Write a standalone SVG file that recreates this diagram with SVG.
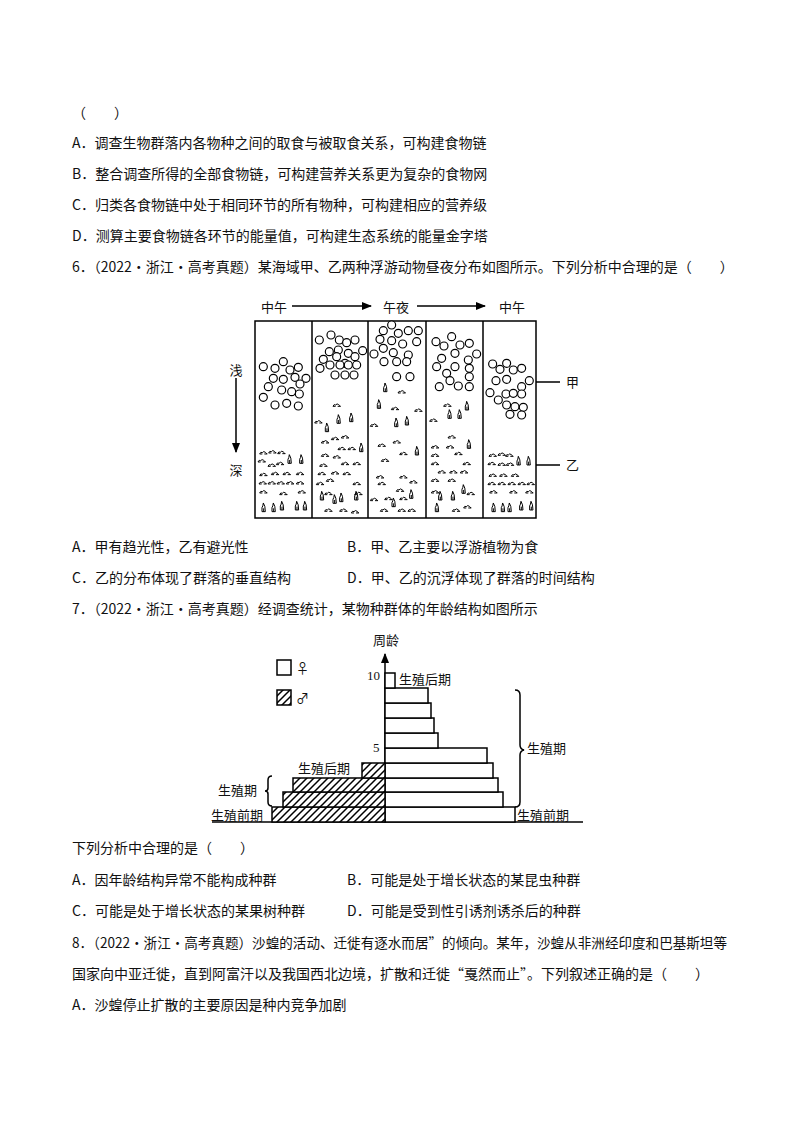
<svg xmlns="http://www.w3.org/2000/svg" xmlns:xlink="http://www.w3.org/1999/xlink" width="794" height="1123" viewBox="0 0 794 1123">
<style>
text{font-family:"Noto Sans CJK SC","Liberation Serif",serif;font-size:14px;fill:#111}
.s{font-size:13px}
.ln{stroke:#000;stroke-width:1.5;fill:none}
.c{fill:#fff;stroke:#000;stroke-width:3.5}
.cr{fill:none;stroke:#000;stroke-width:3;stroke-linejoin:round}
.bar{fill:#fff;stroke:#000;stroke-width:1.5}
.hb{fill:url(#hatch);stroke:#000;stroke-width:1.5}
</style>
<defs>
<marker id="ar" viewBox="0 0 10 10" refX="9" refY="5" markerWidth="7" markerHeight="7" orient="auto"><path d="M0 1L10 5L0 9z" fill="#000"/></marker>
<pattern id="hatch" patternUnits="userSpaceOnUse" width="7" height="7"><rect width="7" height="7" fill="#fff"/><path d="M-1 8L8 -1M-1 1L1 -1M6 8L8 6" stroke="#000" stroke-width="1.5"/></pattern>
<path id="f" d="M-11 2q3-8 8-4q4-6 9-1q3 2 5 5M-11 2h8M3 2h9"/>
<path id="p" d="M-6 0v-12q3-4 4-14q6 8 6 26zM-1 0v-10"/>
</defs>
<rect width="794" height="1123" fill="#fff"/>
<g id="text">
<text x="72" y="118">（　　）</text>
<text x="72" y="148">A．调查生物群落内各物种之间的取食与被取食关系，可构建食物链</text>
<text x="72" y="179">B．整合调查所得的全部食物链，可构建营养关系更为复杂的食物网</text>
<text x="72" y="210">C．归类各食物链中处于相同环节的所有物种，可构建相应的营养级</text>
<text x="72" y="241">D．测算主要食物链各环节的能量值，可构建生态系统的能量金字塔</text>
<text x="72" y="272">6．（2022·浙江·高考真题）某海域甲、乙两种浮游动物昼夜分布如图所示。下列分析中合理的是（　　）</text>
<text x="72" y="552">A．甲有趋光性，乙有避光性</text>
<text x="347" y="552">B．甲、乙主要以浮游植物为食</text>
<text x="72" y="583">C．乙的分布体现了群落的垂直结构</text>
<text x="347" y="583">D．甲、乙的沉浮体现了群落的时间结构</text>
<text x="72" y="614">7．（2022·浙江·高考真题）经调查统计，某物种群体的年龄结构如图所示</text>
<text x="72" y="853">下列分析中合理的是（　　）</text>
<text x="72" y="885">A．因年龄结构异常不能构成种群</text>
<text x="347" y="885">B．可能是处于增长状态的某昆虫种群</text>
<text x="72" y="916">C．可能是处于增长状态的某果树种群</text>
<text x="347" y="916">D．可能是受到性引诱剂诱杀后的种群</text>
<text x="72" y="948" textLength="655" lengthAdjust="spacingAndGlyphs">8．（2022·浙江·高考真题）沙蝗的活动、迁徙有逐水而居”的倾向。某年，沙蝗从非洲经印度和巴基斯坦等</text>
<text x="72" y="979">国家向中亚迁徙，直到阿富汗以及我国西北边境，扩散和迁徙“戛然而止”。下列叙述正确的是（　　）</text>
<text x="72" y="1010">A．沙蝗停止扩散的主要原因是种内竞争加剧</text>
</g>
<g id="fig6">
<rect x="255" y="321" width="281" height="197" fill="#fff" stroke="#000" stroke-width="1.5"/>
<path class="ln" d="M312 321V518M368 321V518M426 321V518M483 321V518"/>
<text class="s" x="274" y="312" text-anchor="middle">中午</text>
<text class="s" x="396" y="312" text-anchor="middle">午夜</text>
<text class="s" x="512" y="312" text-anchor="middle">中午</text>
<text class="s" x="236" y="375" text-anchor="middle">浅</text>
<text class="s" x="236" y="475" text-anchor="middle">深</text>
<text class="s" x="566" y="387">甲</text>
<text class="s" x="566" y="470">乙</text>
<g transform="translate(220 290) scale(0.3333)">
<g class="c">
<circle cx="130" cy="230" r="12"/><circle cx="165" cy="235" r="12"/><circle cx="190" cy="215" r="12"/><circle cx="210" cy="240" r="12"/><circle cx="235" cy="232" r="12"/><circle cx="258" cy="265" r="12"/><circle cx="160" cy="265" r="12"/><circle cx="190" cy="268" r="12"/><circle cx="225" cy="262" r="12"/><circle cx="145" cy="290" r="12"/><circle cx="185" cy="300" r="12"/><circle cx="215" cy="305" r="12"/><circle cx="240" cy="282" r="12"/><circle cx="130" cy="322" r="12"/><circle cx="165" cy="345" r="12"/><circle cx="200" cy="340" r="12"/><circle cx="235" cy="348" r="12"/><circle cx="238" cy="312" r="12"/>
<circle cx="298" cy="150" r="12"/><circle cx="333" cy="135" r="12"/><circle cx="358" cy="150" r="12"/><circle cx="380" cy="158" r="12"/><circle cx="405" cy="150" r="12"/><circle cx="328" cy="185" r="12"/><circle cx="355" cy="180" r="12"/><circle cx="385" cy="190" r="12"/><circle cx="428" cy="182" r="12"/><circle cx="310" cy="208" r="12"/><circle cx="350" cy="200" r="12"/><circle cx="375" cy="220" r="12"/><circle cx="405" cy="200" r="12"/><circle cx="300" cy="235" r="12"/><circle cx="330" cy="225" r="12"/><circle cx="360" cy="225" r="12"/><circle cx="385" cy="225" r="12"/><circle cx="410" cy="225" r="12"/><circle cx="345" cy="255" r="12"/><circle cx="375" cy="255" r="12"/><circle cx="402" cy="255" r="12"/>
<circle cx="515" cy="105" r="12"/><circle cx="490" cy="122" r="12"/><circle cx="535" cy="130" r="12"/><circle cx="565" cy="122" r="12"/><circle cx="595" cy="122" r="12"/><circle cx="480" cy="148" r="12"/><circle cx="515" cy="152" r="12"/><circle cx="548" cy="162" r="12"/><circle cx="590" cy="155" r="12"/><circle cx="462" cy="192" r="12"/><circle cx="490" cy="175" r="12"/><circle cx="520" cy="188" r="12"/><circle cx="565" cy="195" r="12"/><circle cx="492" cy="215" r="12"/><circle cx="530" cy="215" r="12"/><circle cx="560" cy="215" r="12"/><circle cx="530" cy="260" r="12"/><circle cx="570" cy="260" r="12"/>
<circle cx="648" cy="155" r="12"/><circle cx="695" cy="140" r="12"/><circle cx="720" cy="165" r="12"/><circle cx="748" cy="160" r="12"/><circle cx="672" cy="168" r="12"/><circle cx="665" cy="205" r="12"/><circle cx="705" cy="190" r="12"/><circle cx="745" cy="210" r="12"/><circle cx="770" cy="192" r="12"/><circle cx="650" cy="230" r="12"/><circle cx="680" cy="250" r="12"/><circle cx="705" cy="230" r="12"/><circle cx="748" cy="235" r="12"/><circle cx="748" cy="260" r="12"/><circle cx="690" cy="272" r="12"/><circle cx="715" cy="288" r="12"/><circle cx="658" cy="290" r="12"/><circle cx="748" cy="290" r="12"/>
<circle cx="818" cy="222" r="12"/><circle cx="840" cy="238" r="12"/><circle cx="860" cy="220" r="12"/><circle cx="880" cy="240" r="12"/><circle cx="905" cy="235" r="12"/><circle cx="928" cy="272" r="12"/><circle cx="828" cy="272" r="12"/><circle cx="860" cy="268" r="12"/><circle cx="905" cy="290" r="12"/><circle cx="810" cy="308" r="12"/><circle cx="835" cy="330" r="12"/><circle cx="858" cy="312" r="12"/><circle cx="880" cy="310" r="12"/><circle cx="905" cy="312" r="12"/><circle cx="860" cy="345" r="12"/><circle cx="885" cy="350" r="12"/><circle cx="910" cy="352" r="12"/><circle cx="870" cy="373" r="12"/><circle cx="905" cy="375" r="12"/>
</g>
<g class="cr">
<use href="#f" x="130" y="490"/><use href="#f" x="157" y="487"/><use href="#f" x="184" y="489"/><use href="#f" x="125" y="514"/><use href="#f" x="155" y="527"/><use href="#f" x="180" y="522"/><use href="#f" x="130" y="555"/><use href="#f" x="165" y="552"/><use href="#f" x="200" y="552"/><use href="#f" x="240" y="552"/><use href="#f" x="128" y="580"/><use href="#f" x="155" y="580"/><use href="#f" x="182" y="580"/><use href="#f" x="210" y="580"/><use href="#f" x="240" y="580"/><use href="#f" x="130" y="607"/><use href="#f" x="190" y="612"/><use href="#f" x="245" y="607"/>
<use href="#p" x="210" y="520"/><use href="#p" x="245" y="520"/><use href="#p" x="132" y="665"/><use href="#p" x="162" y="665"/><use href="#p" x="187" y="660"/><use href="#p" x="232" y="660"/><use href="#p" x="256" y="660"/>
<use href="#f" x="350" y="347"/><use href="#f" x="295" y="397"/><use href="#f" x="345" y="447"/><use href="#f" x="375" y="442"/><use href="#f" x="315" y="457"/><use href="#f" x="365" y="477"/><use href="#f" x="395" y="477"/><use href="#f" x="315" y="497"/><use href="#f" x="350" y="502"/><use href="#f" x="310" y="527"/><use href="#f" x="375" y="522"/><use href="#f" x="410" y="522"/><use href="#f" x="305" y="552"/><use href="#f" x="345" y="550"/><use href="#f" x="380" y="552"/><use href="#f" x="330" y="572"/><use href="#f" x="300" y="582"/><use href="#f" x="410" y="582"/><use href="#f" x="325" y="612"/><use href="#f" x="415" y="612"/><use href="#f" x="325" y="662"/><use href="#f" x="370" y="662"/><use href="#f" x="405" y="667"/>
<use href="#p" x="357" y="400"/><use href="#p" x="395" y="395"/><use href="#p" x="322" y="425"/><use href="#p" x="425" y="485"/><use href="#p" x="410" y="630"/><use href="#p" x="307" y="630"/><use href="#p" x="345" y="640"/><use href="#p" x="365" y="635"/>
<use href="#f" x="545" y="307"/><use href="#f" x="525" y="357"/><use href="#f" x="595" y="362"/><use href="#f" x="462" y="407"/><use href="#f" x="485" y="467"/><use href="#f" x="530" y="457"/><use href="#f" x="495" y="512"/><use href="#f" x="550" y="492"/><use href="#f" x="480" y="562"/><use href="#f" x="550" y="562"/><use href="#f" x="485" y="582"/><use href="#f" x="580" y="577"/><use href="#f" x="540" y="602"/><use href="#f" x="462" y="630"/><use href="#f" x="505" y="627"/><use href="#f" x="550" y="627"/><use href="#f" x="492" y="662"/><use href="#f" x="545" y="662"/><use href="#f" x="575" y="662"/>
<use href="#p" x="497" y="305"/><use href="#p" x="478" y="355"/><use href="#p" x="530" y="410"/><use href="#p" x="562" y="405"/><use href="#p" x="592" y="495"/><use href="#p" x="575" y="625"/><use href="#p" x="522" y="650"/>
<use href="#f" x="682" y="347"/><use href="#f" x="640" y="392"/><use href="#f" x="695" y="442"/><use href="#f" x="645" y="472"/><use href="#f" x="690" y="472"/><use href="#f" x="645" y="497"/><use href="#f" x="715" y="492"/><use href="#f" x="645" y="522"/><use href="#f" x="740" y="522"/><use href="#f" x="665" y="547"/><use href="#f" x="700" y="547"/><use href="#f" x="732" y="547"/><use href="#f" x="645" y="572"/><use href="#f" x="695" y="572"/><use href="#f" x="645" y="607"/><use href="#f" x="752" y="612"/><use href="#f" x="708" y="662"/><use href="#f" x="742" y="652"/>
<use href="#p" x="742" y="360"/><use href="#p" x="690" y="385"/><use href="#p" x="720" y="385"/><use href="#p" x="748" y="475"/><use href="#p" x="662" y="630"/><use href="#p" x="700" y="630"/><use href="#p" x="732" y="610"/><use href="#p" x="652" y="665"/>
<use href="#f" x="818" y="497"/><use href="#f" x="845" y="494"/><use href="#f" x="868" y="497"/><use href="#f" x="815" y="522"/><use href="#f" x="845" y="524"/><use href="#f" x="870" y="524"/><use href="#f" x="818" y="557"/><use href="#f" x="850" y="557"/><use href="#f" x="885" y="557"/><use href="#f" x="815" y="582"/><use href="#f" x="845" y="582"/><use href="#f" x="875" y="582"/><use href="#f" x="905" y="582"/><use href="#f" x="932" y="582"/><use href="#f" x="820" y="607"/><use href="#f" x="880" y="607"/><use href="#f" x="928" y="607"/>
<use href="#p" x="897" y="525"/><use href="#p" x="927" y="525"/><use href="#p" x="822" y="665"/><use href="#p" x="850" y="665"/><use href="#p" x="870" y="665"/><use href="#p" x="905" y="660"/><use href="#p" x="935" y="660"/>
</g>
</g>
</g>
<g id="connectors">
<path class="ln" d="M292 306H371" marker-end="url(#ar)"/>
<path class="ln" d="M417 306H485" marker-end="url(#ar)"/>
<path class="ln" d="M236 378V452" marker-end="url(#ar)"/>
<path class="ln" d="M536 382H560M536 465H560"/>
<path class="ln" d="M385 822V654" marker-end="url(#ar)"/>
</g>
<g id="fig7">
<path class="ln" d="M212 822H583"/>
<text class="s" x="386" y="645" text-anchor="middle">周龄</text>
<rect x="277" y="660" width="14" height="15" class="bar"/>
<rect x="277" y="690" width="14" height="15" class="hb"/>
<text class="s" x="296" y="673">♀</text>
<text class="s" x="296" y="703">♂</text>
<rect class="bar" x="385" y="807" width="130" height="15"/>
<rect class="bar" x="385" y="792" width="118" height="15"/>
<rect class="bar" x="385" y="778" width="113" height="14"/>
<rect class="bar" x="385" y="763" width="108" height="15"/>
<rect class="bar" x="385" y="748" width="102" height="15"/>
<rect class="bar" x="385" y="733" width="53" height="15"/>
<rect class="bar" x="385" y="718" width="49" height="15"/>
<rect class="bar" x="385" y="703" width="46" height="15"/>
<rect class="bar" x="385" y="688" width="43" height="15"/>
<rect class="bar" x="385" y="673" width="10" height="15"/>
<rect class="hb" x="272" y="807" width="113" height="15"/>
<rect class="hb" x="283" y="792" width="102" height="15"/>
<rect class="hb" x="293" y="778" width="92" height="14"/>
<rect class="hb" x="362" y="763" width="23" height="15"/>
<text x="367" y="680" style="font-family:'Liberation Serif',serif;font-size:13px">10</text>
<text x="373" y="752" style="font-family:'Liberation Serif',serif;font-size:13px">5</text>
<text class="s" x="399" y="684">生殖后期</text>
<text class="s" x="527" y="753">生殖期</text>
<text class="s" x="517" y="820">生殖前期</text>
<text class="s" x="298" y="773">生殖后期</text>
<text class="s" x="218" y="795">生殖期</text>
<text class="s" x="211" y="820">生殖前期</text>
<path class="ln" stroke-width="1" d="M515 690q5 0 5 5v50q0 4 4 5q-4 1-4 5v47q0 5-5 5"/>
<path class="ln" stroke-width="1" d="M272 776q-4 0-4 4v8q0 3-3 3q3 0 3 3v8q0 4 4 4"/>
</g>
</svg>
